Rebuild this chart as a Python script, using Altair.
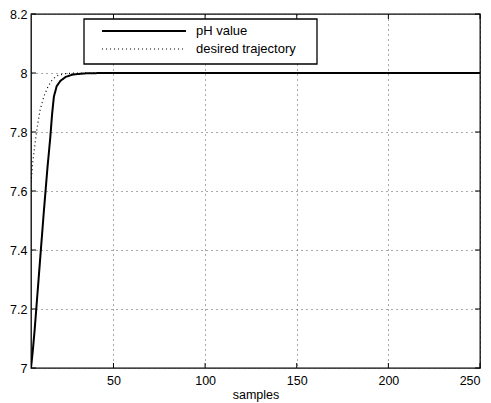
import altair as alt
import pandas as pd

# pH value (solid)
x_ph = [5, 6, 7, 8, 10, 12, 14, 15.5, 16.5, 17.5, 19, 21, 24, 28, 35, 45, 250]
y_ph = [7.0, 7.06, 7.13, 7.21, 7.37, 7.53, 7.68, 7.78, 7.86, 7.92, 7.955, 7.973, 7.987, 7.995, 7.999, 8.0, 8.0]

# desired trajectory (dotted)
x_des = [5, 5.5, 6, 7, 8, 9, 10, 12, 14, 16, 18, 20, 24, 30, 250]
y_des = [7.63, 7.66, 7.70, 7.75, 7.80, 7.84, 7.875, 7.92, 7.95, 7.972, 7.985, 7.993, 7.998, 8.0, 8.0]

series_order = ["pH value", "desired trajectory"]
x_ticks = [50, 100, 150, 200, 250]
y_ticks = [7, 7.2, 7.4, 7.6, 7.8, 8, 8.2]

df = pd.concat([
    pd.DataFrame({"x": x_ph, "y": y_ph, "series": series_order[0]}),
    pd.DataFrame({"x": x_des, "y": y_des, "series": series_order[1]}),
])

W, H = 449, 354
FONT = "Liberation Sans"

x_axis = alt.Axis(values=x_ticks, title="samples", format="d")
y_axis = alt.Axis(values=y_ticks, title=None, format="~g")
x_scale = alt.Scale(domain=[5, 250], nice=False, zero=False)
y_scale = alt.Scale(domain=[7, 8.2], nice=False, zero=False)

lines = alt.Chart(df).mark_line(color="black", clip=True).encode(
    x=alt.X("x:Q", scale=x_scale, axis=x_axis),
    y=alt.Y("y:Q", scale=y_scale, axis=y_axis),
    strokeDash=alt.StrokeDash("series:N",
                              scale=alt.Scale(domain=series_order, range=[[1, 0], [1, 3]]),
                              legend=None),
    strokeWidth=alt.StrokeWidth("series:N",
                                scale=alt.Scale(domain=series_order, range=[2, 1.2]),
                                legend=None),
)

xt = pd.DataFrame({"x": x_ticks})
yt = pd.DataFrame({"y": y_ticks})
tick_bottom = alt.Chart(xt).mark_rule(color="black", strokeWidth=1).encode(
    x=alt.X("x:Q", scale=x_scale, axis=x_axis), y=alt.value(H), y2=alt.value(H - 5))
tick_top = alt.Chart(xt).mark_rule(color="black", strokeWidth=1).encode(
    x=alt.X("x:Q", scale=x_scale, axis=x_axis), y=alt.value(0), y2=alt.value(5))
tick_left = alt.Chart(yt).mark_rule(color="black", strokeWidth=1).encode(
    y=alt.Y("y:Q", scale=y_scale, axis=y_axis), x=alt.value(0), x2=alt.value(5))
tick_right = alt.Chart(yt).mark_rule(color="black", strokeWidth=1).encode(
    y=alt.Y("y:Q", scale=y_scale, axis=y_axis), x=alt.value(W), x2=alt.value(W - 5))

# legend (drawn manually: long line samples in a boxed legend)
leg_box = alt.Chart(pd.DataFrame({"a": [0]})).mark_rect(
    fill="white", stroke="black", strokeWidth=1.3
).encode(x=alt.value(53), x2=alt.value(286), y=alt.value(5), y2=alt.value(50))
leg_row1 = pd.DataFrame({"label": [series_order[0]]})
leg_row2 = pd.DataFrame({"label": [series_order[1]]})
leg_sym1 = alt.Chart(leg_row1).mark_rule(color="black", strokeWidth=2).encode(
    x=alt.value(71), x2=alt.value(155), y=alt.value(17))
leg_sym2 = alt.Chart(leg_row2).mark_rule(color="black", strokeWidth=1.2, strokeDash=[1, 3]).encode(
    x=alt.value(71), x2=alt.value(155), y=alt.value(35))
leg_txt1 = alt.Chart(leg_row1).mark_text(
    align="left", baseline="middle", font=FONT, fontSize=13, color="black"
).encode(text="label:N", x=alt.value(165), y=alt.value(17))
leg_txt2 = alt.Chart(leg_row2).mark_text(
    align="left", baseline="middle", font=FONT, fontSize=13, color="black"
).encode(text="label:N", x=alt.value(165), y=alt.value(35))

chart = alt.layer(
    lines, tick_bottom, tick_top, tick_left, tick_right,
    leg_box, leg_sym1, leg_sym2, leg_txt1, leg_txt2,
).properties(
    width=W, height=H,
    autosize=alt.AutoSizeParams(type="none"),
    padding={"left": 31, "top": 14, "right": 11, "bottom": 35},
).configure_view(
    stroke="black", strokeWidth=1.3
).configure_axis(
    domain=False, ticks=False, grid=True, gridDash=[1, 4], gridColor="#555",
    gridWidth=1, labelFont=FONT, labelFontSize=12.5, labelColor="black",
    labelPadding=6, titleFont=FONT, titleFontSize=12.5, titleFontWeight="normal",
    titleColor="black", titlePadding=2,
).configure_axisY(labelPadding=4)

chart.save("out.html", embed_options={"renderer": "svg", "actions": False})
